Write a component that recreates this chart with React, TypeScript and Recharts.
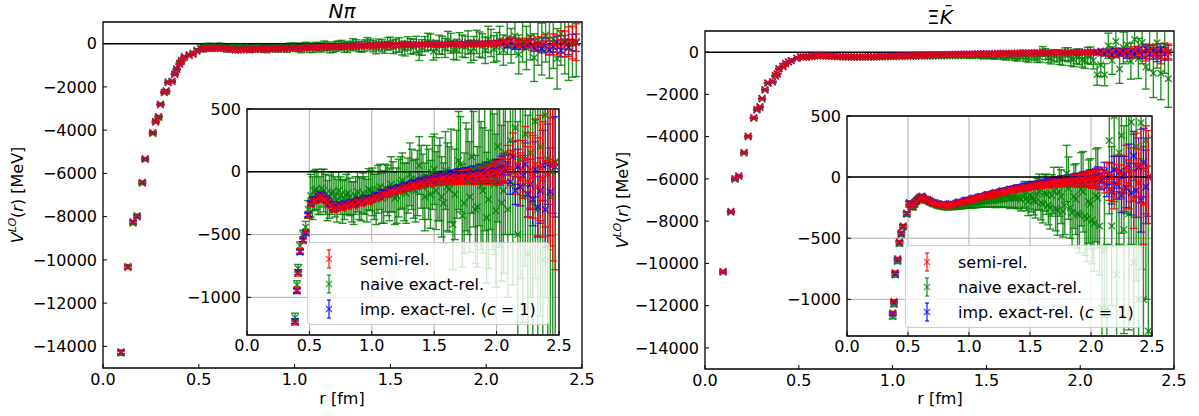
import React from 'react';
import {
  ScatterChart,
  Scatter,
  XAxis,
  YAxis,
  ErrorBar,
  ReferenceLine,
  ReferenceArea,
  CartesianGrid,
  Legend,
} from 'recharts';

const FONT = '"DejaVu Sans", Verdana, sans-serif';

// ---------- tick labels ----------
const xTicks = [0, 0.5, 1, 1.5, 2, 2.5];
const mainYTicks = [-14000, -12000, -10000, -8000, -6000, -4000, -2000, 0];
const insetYTicks = [-1000, -500, 0, 500];

// ---------- series ----------
const seriesNames = ['semi-rel.', 'naive exact-rel.', 'imp. exact-rel.'];
const seriesColors = ['#ff0000', '#008000', '#0000ff'];

// ---------- r grid (fm) ----------
const rShortN = [0.094, 0.13, 0.157, 0.178, 0.205, 0.22, 0.26, 0.275, 0.29, 0.3, 0.32, 0.33, 0.34, 0.36, 0.375, 0.385, 0.4, 0.41, 0.425, 0.45, 0.47, 0.49];
const rShortXK = [0.096, 0.138, 0.16, 0.18, 0.208, 0.23, 0.26, 0.277, 0.293, 0.304, 0.32, 0.335, 0.36, 0.375, 0.385, 0.395, 0.415, 0.43, 0.445, 0.46, 0.49];
const rLong = [
  0.51, 0.54, 0.57, 0.6, 0.63, 0.66, 0.69, 0.72, 0.75, 0.78, 0.81, 0.84, 0.87, 0.9, 0.93, 0.96, 0.99,
  1.02, 1.05, 1.08, 1.11, 1.14, 1.17, 1.2, 1.23, 1.26, 1.29, 1.32, 1.35, 1.38, 1.41, 1.44, 1.47, 1.5,
  1.53, 1.56, 1.59, 1.62, 1.65, 1.68, 1.71, 1.74, 1.77, 1.8, 1.83, 1.86, 1.89, 1.92, 1.95, 1.98, 2.01, 2.04, 2.07,
  2.09, 2.11, 2.13, 2.15, 2.17, 2.19, 2.21, 2.23, 2.25, 2.27, 2.29, 2.31, 2.33, 2.35, 2.37, 2.39, 2.41, 2.43, 2.45, 2.47,
];
// interleaved lattice distances (second set)
const rMidB = [
  0.525, 0.555, 0.585, 0.615, 0.645, 0.675, 0.705, 0.735, 0.765, 0.795, 0.825, 0.855, 0.885, 0.915, 0.945, 0.975,
  1.005, 1.035, 1.065, 1.095, 1.125, 1.155, 1.185, 1.215, 1.245, 1.275, 1.305, 1.335, 1.365, 1.395, 1.425, 1.455, 1.485,
  1.515, 1.545, 1.575, 1.605, 1.635, 1.665, 1.695, 1.725, 1.755, 1.785, 1.815, 1.845, 1.875, 1.905, 1.935, 1.965, 1.995, 2.025, 2.055,
];
const rN = [...rShortN, ...rLong];
const rXK = [...rShortXK, ...rLong];

// ---------- N pi : values (MeV) ----------
const nSemi = [
  -14250, -10350, -8250, -8000, -6420, -5320, -4120, -3620, -3380, -2820, -2270, -2180, -1800, -1760, -1420, -1200, -940, -810, -630, -550, -480, -350,
  -262, -235, -205, -200, -228, -262, -300, -290, -285, -262, -276, -252, -258, -238, -244, -222, -226,
  -205, -208, -182, -184, -160, -166, -145, -148, -126, -130, -108, -112, -92, -100, -78, -86, -66,
  -74, -56, -66, -48, -60, -42, -52, -36, -48, -30, -44, -22, -36, -14, -30, -4, -20, 10, 40,
  90, 30, 150, -30, 60, -60, 20, 100, -80, 10, -40, 60, -120, 30, -60, 80, -20, 90, 50, 70,
];
const nSemiErr = [
  80, 60, 60, 50, 50, 40, 40, 35, 35, 30, 30, 30, 25, 25, 25, 20, 20, 20, 18, 18, 16, 16,
  14, 14, 14, 14, 14, 14, 14, 15, 15, 15, 15, 16, 16, 16, 17, 17, 18,
  18, 19, 19, 20, 20, 21, 22, 22, 23, 24, 25, 26, 27, 28, 30, 32, 34,
  36, 38, 40, 42, 44, 46, 48, 50, 52, 55, 58, 60, 64, 68, 72, 78, 85, 95, 110,
  120, 140, 160, 150, 190, 210, 230, 260, 280, 300, 330, 360, 390, 420, 460, 520, 600, 680, 760, 850,
];
const nSemiB = [
  -235, -230, -190, -222, -240, -270, -305, -268, -290, -278, -258, -270, -240, -255, -225, -240,
  -222, -198, -200, -176, -180, -154, -162, -138, -142, -120, -124, -102, -106, -86, -94, -72, -80,
  -60, -70, -50, -62, -44, -56, -38, -50, -32, -46, -26, -40, -18, -34, -8, -24, 0, -12, 20,
];
const nSemiBErr = [
  14, 14, 14, 14, 14, 14, 15, 15, 15, 15, 16, 16, 16, 17, 17, 18,
  18, 19, 19, 20, 20, 21, 22, 22, 23, 24, 25, 26, 27, 28, 30, 32, 34,
  36, 38, 40, 42, 44, 46, 48, 50, 52, 55, 58, 60, 64, 68, 72, 78, 85, 95, 110,
];
const nNaive = [
  -14320, -10300, -8300, -7950, -6460, -5360, -4160, -3590, -3420, -2790, -2250, -2210, -1770, -1730, -1390, -1160, -900, -770, -590, -500, -440, -300,
  -190, -150, -170, -130, -180, -200, -160, -230, -190, -220, -170, -240, -190, -210, -170, -230, -150,
  -200, -140, -210, -130, -180, -120, -190, -90, -160, -110, -60, -150, 50, -120, -40, -180, 20,
  -90, -200, 10, -140, -420, -20, 60, -250, -80, 120, -300, 40, -150, -365, 80, -100, 200, -250, 150,
  -300, 250, -100, 350, -500, 100, -200, 300, -650, 150, -250, 400, -300, 200, -700, 450, 100, -200, 0, 80,
];
const nNaiveErr = [
  100, 80, 80, 70, 60, 60, 50, 50, 45, 45, 40, 40, 38, 36, 35, 34, 33, 32, 32, 35, 45, 70,
  170, 160, 170, 150, 160, 170, 160, 170, 150, 160, 170, 160, 150, 170, 160, 170, 160,
  180, 190, 200, 190, 210, 200, 220, 210, 230, 220, 240, 250, 230, 260, 250, 270, 280,
  300, 320, 310, 340, 360, 350, 380, 400, 420, 450, 430, 470, 500, 520, 540, 560, 600, 620, 650,
  700, 750, 800, 850, 900, 950, 1000, 1050, 1100, 1150, 1200, 1250, 1300, 1350, 1400, 1450, 1500, 1500, 1550, 1600,
];
const nNaiveB = [
  -210, -140, -190, -150, -230, -170, -200, -150, -240, -180, -200, -250, -160, -220, -190, -140,
  -160, -220, -120, -200, -150, -100, -210, -130, -70, -170, -20, -140, -90, -40, -200, -100, -10,
  -150, -60, -250, -120, -30, -180, 90, -350, -40, -200, 20, -280, -110, 60, -220, -40, -310, 30, -150,
];
const nNaiveBErr = [
  170, 160, 150, 170, 160, 170, 160, 150, 170, 160, 150, 170, 160, 170, 150, 165,
  190, 200, 180, 210, 200, 220, 210, 230, 220, 240, 250, 230, 260, 250, 270, 280, 290,
  310, 330, 320, 350, 370, 360, 390, 410, 430, 440, 460, 480, 510, 530, 550, 580, 610, 630, 660,
];
const nImp = [
  -14260, -10340, -8240, -8010, -6410, -5330, -4110, -3630, -3370, -2830, -2260, -2190, -1810, -1750, -1430, -1190, -950, -800, -640, -540, -490, -340,
  -250, -222, -196, -188, -216, -250, -288, -278, -272, -250, -264, -240, -246, -226, -232, -210, -214,
  -193, -196, -170, -172, -148, -154, -133, -136, -114, -118, -96, -100, -80, -88, -66, -74, -54,
  -62, -44, -54, -36, -48, -30, -40, -24, -36, -18, -32, -10, -24, -2, -18, 8, -8, 22, 20,
  60, -80, 120, -150, 40, -120, -30, 60, -180, -100, -220, 20, -280, -150, 50, -300, 60, -160, 50, 40,
];
const nImpErr = [
  80, 60, 60, 50, 50, 40, 40, 35, 35, 30, 30, 30, 25, 25, 25, 20, 20, 20, 18, 18, 16, 16,
  16, 16, 16, 16, 16, 16, 16, 17, 17, 17, 17, 18, 18, 18, 19, 19, 20,
  20, 21, 21, 22, 22, 23, 24, 24, 25, 26, 27, 28, 29, 30, 32, 34, 36,
  40, 42, 44, 46, 48, 50, 52, 55, 58, 60, 64, 68, 72, 76, 80, 85, 90, 100, 110,
  80, 100, 120, 110, 140, 150, 160, 170, 180, 200, 210, 220, 240, 260, 280, 300, 320, 350, 380, 400,
];
const nImpB = [
  -223, -218, -178, -210, -228, -258, -293, -256, -278, -266, -246, -258, -228, -243, -213, -228,
  -210, -186, -188, -164, -168, -142, -150, -126, -130, -108, -112, -90, -94, -74, -82, -60, -68,
  -48, -58, -38, -50, -32, -44, -26, -38, -20, -34, -14, -28, -6, -22, 4, -12, 12, 0, 30,
];
const nImpBErr = [
  16, 16, 16, 16, 16, 16, 17, 17, 17, 17, 18, 18, 18, 19, 19, 20,
  20, 21, 21, 22, 22, 23, 24, 24, 25, 26, 27, 28, 29, 30, 32, 34, 36,
  38, 40, 42, 44, 46, 48, 50, 52, 54, 57, 60, 62, 66, 70, 74, 80, 87, 97, 112,
];

// ---------- Xi Kbar : values (MeV) ----------
const xSemi = [
  -10380, -7540, -5990, -5850, -4740, -3970, -3100, -2710, -2580, -2190, -1770, -1450, -1390, -1110, -1016, -780, -667, -528, -455, -398, -293,
  -215, -240, -195, -168, -178, -188, -205, -212, -224, -226, -234, -226, -228, -216, -212, -200, -196,
  -184, -180, -168, -164, -152, -150, -138, -136, -124, -122, -112, -108, -100, -98, -88, -86, -78,
  -76, -66, -66, -56, -58, -48, -50, -40, -42, -34, -38, -28, -34, -22, -30, -16, -28, -8, -24,
  20, -60, 40, -100, 10, -150, 60, -40, 30, -120, 80, -60, 20, -180, 100, -50, 90, -220, 60, 0,
];
const xSemiErr = [
  40, 30, 30, 25, 25, 20, 20, 20, 15, 15, 15, 15, 15, 12, 12, 12, 10, 10, 10, 10, 10,
  10, 10, 10, 10, 10, 10, 10, 10, 10, 11, 11, 11, 11, 12, 12, 12, 12,
  13, 13, 14, 14, 15, 15, 16, 16, 17, 18, 18, 19, 20, 21, 22, 23, 24,
  25, 26, 27, 28, 30, 32, 34, 36, 38, 40, 42, 45, 48, 50, 55, 60, 65, 70, 80,
  60, 70, 80, 90, 100, 110, 120, 140, 150, 160, 180, 200, 220, 240, 260, 280, 300, 330, 360, 380,
];
const xSemiB = [
  -232, -215, -180, -160, -185, -198, -214, -222, -232, -224, -236, -222, -226, -208, -210, -192,
  -192, -178, -176, -162, -160, -146, -146, -132, -132, -118, -118, -104, -106, -92, -94, -80, -84,
  -70, -74, -60, -62, -52, -54, -44, -46, -36, -40, -30, -34, -26, -30, -20, -24, -12, -18, -4,
];
const xSemiBErr = [
  10, 10, 10, 10, 10, 10, 10, 10, 11, 11, 11, 11, 12, 12, 12, 12,
  13, 13, 14, 14, 15, 15, 16, 16, 17, 18, 18, 19, 20, 21, 22, 23, 24,
  25, 26, 27, 28, 30, 32, 34, 36, 38, 40, 42, 45, 48, 50, 55, 60, 65, 70, 80,
];
const xNaive = [
  -10420, -7580, -6030, -5890, -4780, -4010, -3140, -2740, -2610, -2220, -1800, -1480, -1420, -1140, -1040, -800, -690, -545, -470, -410, -305,
  -220, -244, -200, -172, -182, -194, -210, -220, -232, -236, -242, -238, -238, -232, -230, -224, -220,
  -214, -210, -205, -200, -198, -192, -190, -185, -180, -178, -172, -170, -168, -170, -160, -175, -150,
  -190, -140, -210, -130, -230, -150, -260, -120, -280, 30, -250, -160, -300, -100, -320, -200, -350, -150, -400,
  -1070, -600, -1070, 300, -400, 500, -800, 200, 340, -430, 600, -300, 450, -700, 250, -1000, 445, -1000, 300, -1260,
];
const xNaiveErr = [
  60, 50, 45, 40, 40, 35, 30, 30, 25, 25, 25, 22, 22, 20, 20, 20, 18, 18, 16, 16, 16,
  25, 25, 22, 20, 20, 20, 20, 22, 22, 25, 25, 28, 28, 30, 30, 32, 35,
  38, 40, 42, 45, 48, 50, 55, 60, 65, 70, 75, 80, 85, 90, 95, 100, 110,
  120, 130, 140, 150, 160, 170, 180, 200, 210, 230, 250, 260, 280, 300, 320, 340, 360, 380, 400,
  500, 550, 520, 600, 650, 700, 680, 750, 800, 850, 900, 950, 1000, 1050, 1100, 1150, 1200, 1250, 1300, 1350,
];
const xNaiveB = [
  -240, -220, -186, -165, -190, -204, -218, -228, -236, -240, -242, -236, -236, -230, -228, -220,
  -214, -212, -206, -202, -196, -194, -188, -188, -180, -176, -170, -175, -160, -165, -180, -140, -200,
  -160, -200, -120, -220, -140, -250, -110, -270, -160, -230, -90, -290, -180, -310, -120, -340, -220, -380, -170,
];
const xNaiveBErr = [
  25, 24, 22, 20, 20, 20, 21, 22, 23, 25, 26, 28, 29, 30, 31, 33,
  39, 41, 43, 46, 49, 52, 57, 62, 67, 72, 77, 82, 87, 92, 97, 105, 115,
  125, 135, 145, 155, 165, 175, 190, 205, 220, 240, 255, 270, 290, 310, 330, 350, 370, 390, 410,
];
const xImp = [
  -10390, -7550, -6000, -5860, -4750, -3980, -3110, -2720, -2590, -2200, -1780, -1460, -1400, -1120, -1025, -790, -675, -535, -460, -402, -297,
  -209, -234, -189, -162, -172, -182, -199, -206, -218, -220, -228, -220, -222, -210, -206, -194, -190,
  -178, -174, -162, -158, -146, -144, -132, -130, -118, -116, -106, -102, -94, -92, -82, -80, -72,
  -70, -60, -60, -50, -52, -42, -44, -34, -36, -28, -32, -22, -28, -16, -24, -10, -22, -2, -18,
  -30, 50, -80, 30, -120, 60, -60, 40, -150, 20, -90, 100, -130, 175, -110, 80, -190, 120, -80, 0,
];
const xImpErr = [
  40, 30, 30, 25, 25, 20, 20, 20, 15, 15, 15, 15, 15, 12, 12, 12, 10, 10, 10, 10, 10,
  12, 12, 12, 12, 12, 12, 12, 12, 12, 13, 13, 13, 13, 14, 14, 14, 14,
  15, 15, 16, 16, 17, 17, 18, 18, 19, 20, 20, 21, 22, 23, 24, 25, 26,
  27, 28, 29, 30, 32, 34, 36, 38, 40, 42, 44, 47, 50, 52, 57, 62, 67, 72, 82,
  60, 70, 80, 90, 100, 110, 120, 130, 140, 150, 160, 170, 180, 200, 220, 240, 260, 280, 300, 320,
];
const xImpB = [
  -226, -209, -174, -154, -179, -192, -208, -216, -226, -218, -230, -216, -220, -202, -204, -186,
  -186, -172, -170, -156, -154, -140, -140, -126, -126, -112, -112, -98, -100, -86, -88, -74, -78,
  -64, -68, -54, -56, -46, -48, -38, -40, -30, -34, -24, -28, -20, -24, -14, -18, -6, -12, 2,
];
const xImpBErr = [
  12, 12, 12, 12, 12, 12, 12, 12, 13, 13, 13, 13, 14, 14, 14, 14,
  15, 15, 16, 16, 17, 17, 18, 18, 19, 20, 20, 21, 22, 23, 24, 25, 26,
  27, 28, 29, 30, 32, 34, 36, 38, 40, 42, 44, 47, 50, 52, 57, 62, 67, 72, 82,
];

type Pt = { r: number; v: number; e: number };
const rows = (r: number[], v: number[], e: number[]): Pt[] =>
  r.map((x, i) => ({ r: x, v: v[i], e: e[i] }));

type Series = { data: Pt[]; color: string; opacity: number; width: number; name: string };

const panelN: Series[] = [
  { data: [...rows(rN, nNaive, nNaiveErr), ...rows(rMidB, nNaiveB, nNaiveBErr)], color: seriesColors[1], opacity: 0.85, width: 1.4, name: seriesNames[1] },
  { data: [...rows(rN, nImp, nImpErr), ...rows(rMidB, nImpB, nImpBErr)], color: seriesColors[2], opacity: 0.8, width: 1.3, name: seriesNames[2] },
  { data: [...rows(rN, nSemi, nSemiErr), ...rows(rMidB, nSemiB, nSemiBErr)], color: seriesColors[0], opacity: 0.85, width: 1.4, name: seriesNames[0] },
];
const panelX: Series[] = [
  { data: [...rows(rXK, xNaive, xNaiveErr), ...rows(rMidB, xNaiveB, xNaiveBErr)], color: seriesColors[1], opacity: 0.85, width: 1.4, name: seriesNames[1] },
  { data: [...rows(rXK, xImp, xImpErr), ...rows(rMidB, xImpB, xImpBErr)], color: seriesColors[2], opacity: 0.8, width: 1.3, name: seriesNames[2] },
  { data: [...rows(rXK, xSemi, xSemiErr), ...rows(rMidB, xSemiB, xSemiBErr)], color: seriesColors[0], opacity: 0.85, width: 1.4, name: seriesNames[0] },
];

const makeCross = (color: string, opacity: number) => (props: any) => {
  const { cx, cy } = props;
  if (cx == null || cy == null || isNaN(cx) || isNaN(cy)) return <g />;
  const s = 3.3;
  return (
    <path
      d={`M${cx - s},${cy - s}L${cx + s},${cy + s}M${cx - s},${cy + s}L${cx + s},${cy - s}`}
      stroke={color}
      strokeOpacity={opacity}
      strokeWidth={1.4}
      fill="none"
    />
  );
};
const emptyShape = () => <g />;

const fmtX = (v: number) => v.toFixed(1);
const fmtY = (v: number) => (v < 0 ? '\u2212' + Math.abs(v) : String(v));
const tickStyle = { fontSize: 16, fill: '#000', fontFamily: FONT };

const renderSeries = (list: Series[]) =>
  list.map((s) => (
    <Scatter
      key={s.name}
      name={s.name}
      data={s.data}
      isAnimationActive={false}
      shape={makeCross(s.color, s.opacity)}
    >
      <ErrorBar
        dataKey="e"
        direction="y"
        width={4}
        stroke={s.color}
        strokeOpacity={s.opacity}
        strokeWidth={s.width}
        isAnimationActive={false}
      />
    </Scatter>
  ));

type Geo = {
  left: number; top: number; width: number; height: number;
  margin: { top: number; right: number; bottom: number; left: number };
  yWidth: number; xHeight: number;
  yDomain: [number, number]; yTicks: number[];
  inset: boolean;
  legend?: { left: number; top: number; width: number; height: number };
};

const legendOrder = [0, 1, 2];

function LegendBox({ w, h }: { w: number; h: number }) {
  return (
    <div
      style={{
        width: w,
        height: h,
        boxSizing: 'border-box',
        border: '1px solid #cccccc',
        borderRadius: 4,
        background: 'rgba(255,255,255,0.8)',
        position: 'relative',
        fontFamily: FONT,
        fontSize: 16,
        color: '#000',
      }}
    >
      {legendOrder.map((k, i) => {
        const c = seriesColors[k];
        return (
          <div key={k} style={{ position: 'absolute', left: 0, top: 4 + i * 25, height: 24, display: 'flex', alignItems: 'center', whiteSpace: 'nowrap' }}>
            <svg width={44} height={24}>
              <line x1={21} y1={3} x2={21} y2={21} stroke={c} strokeWidth={1.3} strokeOpacity={0.85} />
              <line x1={19} y1={3} x2={23} y2={3} stroke={c} strokeWidth={1.3} strokeOpacity={0.85} />
              <line x1={19} y1={21} x2={23} y2={21} stroke={c} strokeWidth={1.3} strokeOpacity={0.85} />
              <path d="M18,9L24,15M18,15L24,9" stroke={c} strokeWidth={1.3} strokeOpacity={0.7} fill="none" />
            </svg>
            <span style={{ marginLeft: 8 }}>
              {k === 2 ? (
                <>
                  imp. exact-rel. (<span style={{ fontStyle: 'italic' }}>c</span> = 1)
                </>
              ) : (
                seriesNames[k]
              )}
            </span>
          </div>
        );
      })}
    </div>
  );
}

// Two stacked layers: frame (grid, ticks, spines) and data clipped to the axes box.
function Plot({ series, geo }: { series: Series[]; geo: Geo }) {
  const m = geo.margin;
  const dataMargin = { top: m.top, right: m.right, bottom: m.bottom + geo.xHeight, left: m.left + geo.yWidth };
  const clip = `inset(${m.top + 1}px ${m.right + 1}px ${m.bottom + geo.xHeight + 1}px ${m.left + geo.yWidth + 1}px)`;
  const [y0, y1] = geo.yDomain;
  return (
    <>
      <div style={{ position: 'absolute', left: geo.left, top: geo.top }}>
        <ScatterChart width={geo.width} height={geo.height} margin={m}>
          {geo.inset && <CartesianGrid stroke="#b0b0b0" strokeWidth={1} fill="#ffffff" fillOpacity={1} />}
          <XAxis
            type="number"
            dataKey="r"
            domain={[0, 2.5]}
            ticks={xTicks}
            allowDataOverflow
            tickFormatter={fmtX}
            tick={tickStyle}
            axisLine={false}
            tickLine={{ stroke: '#000' }}
            tickSize={-4}
            tickMargin={geo.inset ? 9 : 10}
            height={geo.xHeight}
          />
          <YAxis
            type="number"
            dataKey="v"
            domain={geo.yDomain}
            ticks={geo.yTicks}
            allowDataOverflow
            tickFormatter={fmtY}
            tick={tickStyle}
            axisLine={false}
            tickLine={{ stroke: '#000' }}
            tickSize={-4}
            tickMargin={10}
            width={geo.yWidth}
          />
          <Scatter data={series[2].data} isAnimationActive={false} shape={emptyShape} />
          <ReferenceArea x1={0} x2={2.5} y1={y0} y2={y1} fill="none" fillOpacity={0} stroke="#000" strokeWidth={1.3} ifOverflow="visible" />
        </ScatterChart>
      </div>
      <div style={{ position: 'absolute', left: geo.left, top: geo.top, clipPath: clip, WebkitClipPath: clip }}>
        <ScatterChart width={geo.width} height={geo.height} margin={dataMargin}>
          <XAxis type="number" dataKey="r" domain={[0, 2.5]} allowDataOverflow hide />
          <YAxis type="number" dataKey="v" domain={geo.yDomain} allowDataOverflow hide />
          {renderSeries(series)}
          <ReferenceLine y={0} stroke="#000" strokeWidth={1.5} />
          {geo.legend && (
            <Legend
              layout="horizontal"
              verticalAlign="middle"
              align="center"
              wrapperStyle={{ position: 'absolute', left: geo.legend.left, top: geo.legend.top, width: geo.legend.width, height: geo.legend.height, margin: 0 }}
              content={() => <LegendBox w={geo.legend!.width} h={geo.legend!.height} />}
            />
          )}
        </ScatterChart>
      </div>
    </>
  );
}

const mainLeft: Geo = {
  left: 0, top: 0, width: 600, height: 416, yWidth: 90, xHeight: 30,
  margin: { top: 22, right: 18, bottom: 18, left: 13 },
  yDomain: [-15000, 1000], yTicks: mainYTicks, inset: false,
};
const mainRight: Geo = {
  left: 600, top: 0, width: 599, height: 416, yWidth: 90, xHeight: 30,
  margin: { top: 31, right: 25, bottom: 17, left: 15 },
  yDomain: [-15000, 1000], yTicks: mainYTicks, inset: false,
};
const insetLeft: Geo = {
  left: 170, top: 100, width: 420, height: 265, yWidth: 70, xHeight: 25,
  margin: { top: 9, right: 31, bottom: 5, left: 7 },
  yDomain: [-1300, 500], yTicks: insetYTicks, inset: true,
  legend: { left: 137, top: 142, width: 243, height: 83 },
};
const insetRight: Geo = {
  left: 770, top: 105, width: 415, height: 260, yWidth: 70, xHeight: 25,
  margin: { top: 11, right: 33, bottom: 4, left: 7 },
  yDomain: [-1300, 500], yTicks: insetYTicks, inset: true,
  legend: { left: 135, top: 140, width: 238, height: 83 },
};

const abs = (s: any) => ({ position: 'absolute' as const, whiteSpace: 'nowrap' as const, ...s });

function YLabel({ cx, cy }: { cx: number; cy: number }) {
  return (
    <div style={abs({ left: cx, top: cy, transform: 'translate(-50%,-50%) rotate(-90deg)', fontSize: 16, lineHeight: '20px' })}>
      <span style={{ fontStyle: 'italic' }}>V</span>
      <span style={{ fontStyle: 'italic', fontSize: 11, position: 'relative', top: -7 }}>LO</span>(<span style={{ fontStyle: 'italic' }}>r</span>) [MeV]
    </div>
  );
}

export default function App() {
  return (
    <div style={{ position: 'absolute', left: 0, top: 0, width: 1199, height: 416, background: '#fff', fontFamily: FONT, color: '#000', overflow: 'hidden' }}>
      <Plot series={panelN} geo={mainLeft} />
      <Plot series={panelX} geo={mainRight} />
      <Plot series={panelN} geo={insetLeft} />
      <Plot series={panelX} geo={insetRight} />

      <div style={abs({ left: 242, width: 200, top: 0, textAlign: 'center', fontSize: 20, lineHeight: '23px', fontStyle: 'italic' })}>Nπ</div>
      <div style={abs({ left: 840, width: 200, top: 6, textAlign: 'center', fontSize: 20, lineHeight: '23px' })}>
        Ξ<span style={{ fontStyle: 'italic' }}>K&#772;</span>
      </div>

      <div style={abs({ left: 242, width: 200, top: 389, textAlign: 'center', fontSize: 16, lineHeight: '19px' })}>r [fm]</div>
      <div style={abs({ left: 840, width: 200, top: 389, textAlign: 'center', fontSize: 16, lineHeight: '19px' })}>r [fm]</div>

      <YLabel cx={19} cy={195} />
      <YLabel cx={624} cy={200} />
    </div>
  );
}
